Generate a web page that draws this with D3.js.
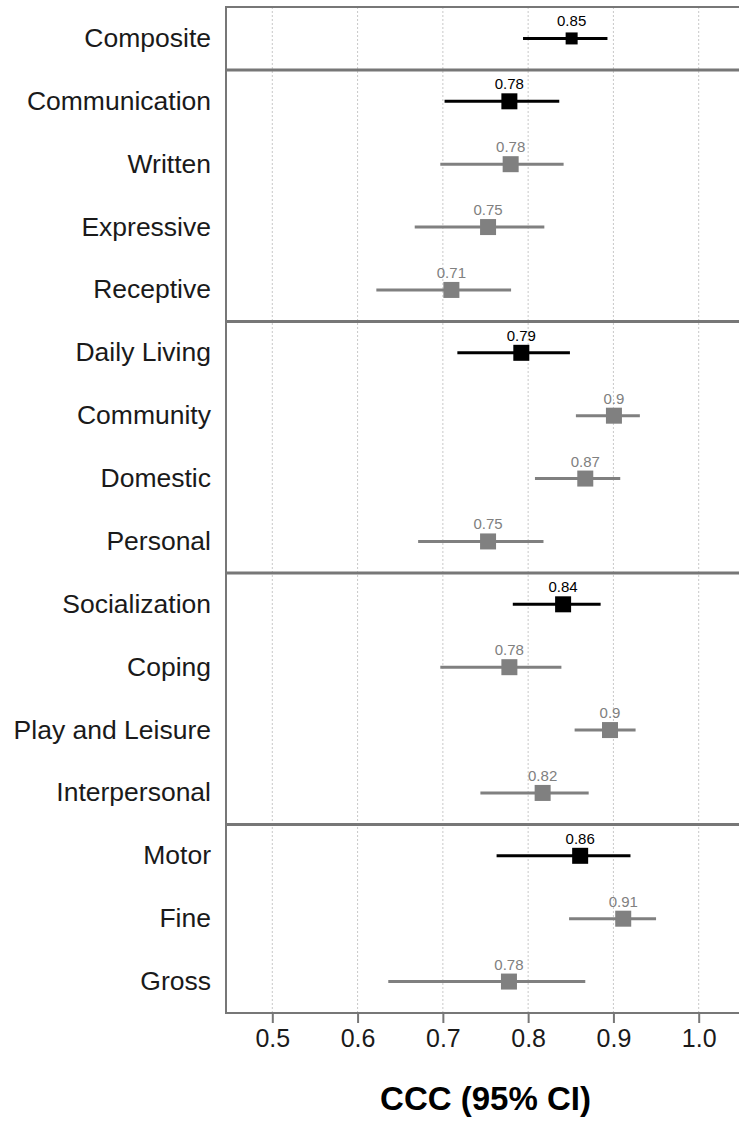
<!DOCTYPE html>
<html><head><meta charset="utf-8">
<script src="https://cdn.jsdelivr.net/npm/d3@7"></script>
<style>body{margin:0;background:#fff;}svg{display:block;font-family:"Liberation Sans",Arial,sans-serif;}</style>
</head><body>
<svg id="c" width="739" height="1123"></svg>
<script>
const categories = ["Composite","Communication","Written","Expressive","Receptive","Daily Living","Community","Domestic","Personal","Socialization","Coping","Play and Leisure","Interpersonal","Motor","Fine","Gross"];
const estimates = [0.851,0.778,0.7795,0.753,0.710,0.792,0.9006,0.867,0.753,0.841,0.778,0.896,0.817,0.861,0.9115,0.7775];
const lower = [0.794,0.702,0.697,0.667,0.622,0.717,0.856,0.808,0.671,0.782,0.697,0.8545,0.744,0.763,0.848,0.636];
const upper = [0.893,0.8365,0.8416,0.819,0.780,0.849,0.931,0.908,0.818,0.885,0.839,0.926,0.871,0.920,0.950,0.867];
const level = ["composite","domain","sub","sub","sub","domain","sub","sub","sub","domain","sub","sub","sub","domain","sub","sub"];
const groupBreaksAfter = ["Composite","Receptive","Personal","Interpersonal"];
const xTicks = [0.5,0.6,0.7,0.8,0.9,1.0];
const xTitle = "CCC (95% CI)";

(function(){
const svg = d3.select("#c");
const pLeft = 226, pTop = 7, pBottom = 1013;
const x = d3.scaleLinear().domain([0.5,1.0]).range([272.3,698.7]);
const rightEdge = x(1.05);
const y = d3.scaleBand().domain(categories).range([pTop,pBottom]).padding(0);
const yc = c => y(c) + y.bandwidth()/2;
const color = l => l === "sub" ? "#808080" : "#000000";
const sq = l => l === "composite" ? 12 : 16;

svg.append("g").selectAll("line").data(xTicks).join("line")
  .attr("x1",d=>x(d)).attr("x2",d=>x(d)).attr("y1",pTop).attr("y2",pBottom)
  .attr("stroke","#c8c8c8").attr("stroke-width",1).attr("stroke-dasharray","2,2");

svg.append("g").selectAll("line").data(groupBreaksAfter).join("line")
  .attr("x1",pLeft).attr("x2",rightEdge)
  .attr("y1",d=>y(d)+y.bandwidth()).attr("y2",d=>y(d)+y.bandwidth())
  .attr("stroke","#777").attr("stroke-width",3);

svg.append("path")
  .attr("d",`M${rightEdge},${pTop}H${pLeft}V${pBottom}H${rightEdge}`)
  .attr("fill","none").attr("stroke","#777").attr("stroke-width",2);

const data = categories.map((c,i)=>({c,est:estimates[i],lo:lower[i],hi:upper[i],lv:level[i]}));

const g = svg.append("g");
g.selectAll("line.ci").data(data).join("line").attr("class","ci")
  .attr("x1",d=>x(d.lo)).attr("x2",d=>x(d.hi)).attr("y1",d=>yc(d.c)).attr("y2",d=>yc(d.c))
  .attr("stroke",d=>color(d.lv)).attr("stroke-width",3);
g.selectAll("rect").data(data).join("rect")
  .attr("x",d=>x(d.est)-sq(d.lv)/2).attr("y",d=>yc(d.c)-sq(d.lv)/2)
  .attr("width",d=>sq(d.lv)).attr("height",d=>sq(d.lv)).attr("fill",d=>color(d.lv));
g.selectAll("text.val").data(data).join("text").attr("class","val")
  .attr("x",d=>x(d.est)).attr("y",d=>yc(d.c)-12)
  .attr("text-anchor","middle").attr("font-size",15).attr("fill",d=>color(d.lv))
  .text(d=>String(Math.round(d.est*100)/100));

const yAxis = d3.axisLeft(y).tickSize(0).tickPadding(15);
const ya = svg.append("g").attr("transform",`translate(${pLeft},0)`).call(yAxis);
ya.select(".domain").remove();
ya.selectAll("text").attr("font-size",26.5).attr("fill","#1a1a1a").attr("font-family","Liberation Sans, Arial, sans-serif");

const xAxis = d3.axisBottom(x).tickValues(xTicks).tickFormat(d3.format(".1f")).tickSize(10).tickPadding(6);
const xa = svg.append("g").attr("transform",`translate(0,${pBottom})`).call(xAxis);
xa.select(".domain").remove();
xa.selectAll("line").attr("stroke","#777").attr("stroke-width",2);
xa.selectAll("text").attr("font-size",25).attr("fill","#1a1a1a").attr("font-family","Liberation Sans, Arial, sans-serif");

svg.append("text").attr("x",(x(0.5)+x(1.0))/2).attr("y",1110)
  .attr("text-anchor","middle").attr("font-size",33).attr("font-weight","bold").attr("fill","#000")
  .text(xTitle);
})();
</script>
</body></html>
